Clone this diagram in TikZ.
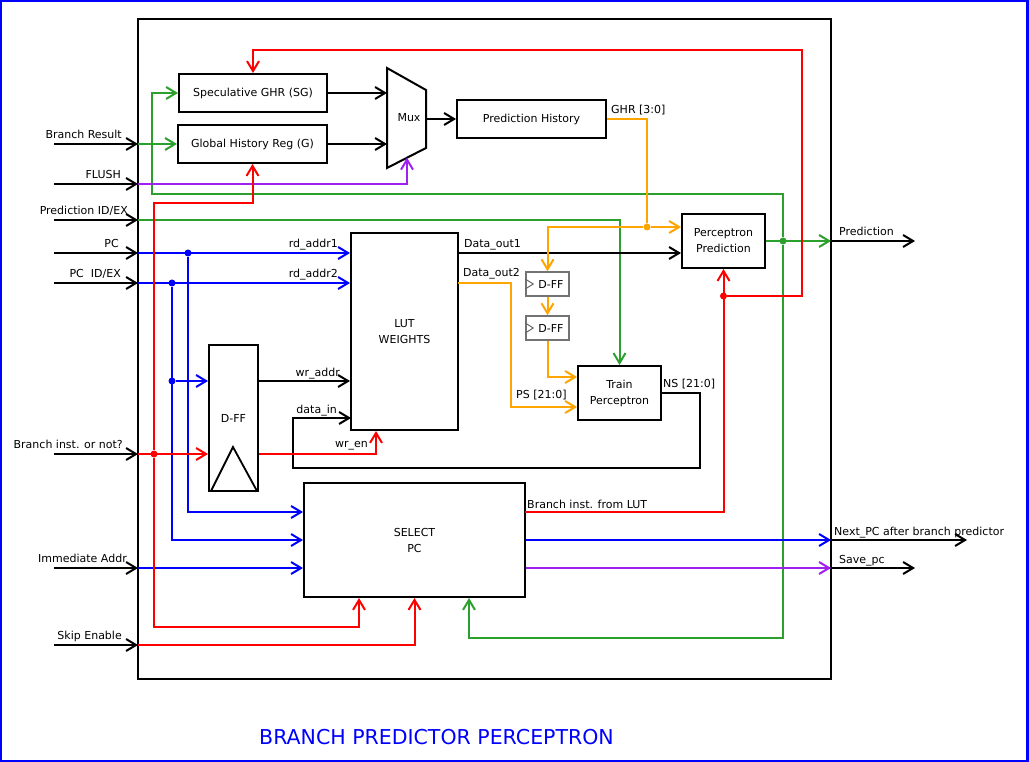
\documentclass[tikz,border=0pt]{standalone}
\usepackage{fontspec}
\setmainfont{DejaVu Sans}
\usepackage{xcolor}
\usetikzlibrary{arrows.meta}

\definecolor{wred}{RGB}{255,0,0}
\definecolor{wgreen}{RGB}{44,160,44}
\definecolor{wblue}{RGB}{0,0,255}
\definecolor{worange}{RGB}{255,165,0}
\definecolor{wpurple}{RGB}{160,32,240}

\tikzset{
  blk/.style={draw, line width=2pt, inner sep=1pt, align=center, font=\fontsize{11}{16}\selectfont},
  ffbox/.style={draw=black!55, line width=1.5pt, inner sep=0pt, minimum width=43pt, minimum height=24pt, font=\fontsize{11}{14}\selectfont},
  lbl/.style={inner sep=0pt, font=\fontsize{11}{14}\selectfont},
  wire/.style={line width=2pt, -{Straight Barb[length=10pt,width=12pt]}},
  bus/.style={line width=2pt},
  dot/.style={circle, fill, inner sep=0pt, minimum size=7pt},
}

\begin{document}
\begin{tikzpicture}[x=1pt,y=-1pt]
    \useasboundingbox (0,0) rectangle (1029,762);
    \draw[wblue, line width=2.5pt] (1.2,1.2) rectangle (1027.6,760.8);
    \node[draw, line width=2pt, minimum width=693pt, minimum height=660pt, inner sep=0pt] (core) at (484.5,349) {};

    \node[blk, minimum width=148pt, minimum height=38pt] (sg) at (253,93) {Speculative GHR (SG)};
    \node[blk, minimum width=149pt, minimum height=38pt] (ghr) at (252.5,144) {Global History Reg (G)};
    \node[blk, minimum width=149pt, minimum height=38pt] (ph) at (531.5,119) {Prediction History};
    \node[blk, minimum width=107pt, minimum height=197pt] (lut) at (404.5,331.5) {LUT\\WEIGHTS};
    \node[blk, minimum width=83pt, minimum height=54pt] (pp) at (723.5,241) {Perceptron\\Prediction};
    \node[blk, minimum width=83pt, minimum height=54pt] (tp) at (619.5,393) {Train\\Perceptron};
    \node[ffbox] (dffa) at (547.5,284) {\hspace*{7pt}D-FF};
    \node[ffbox] (dffb) at (547.5,328) {\hspace*{7pt}D-FF};
    \node[blk, minimum width=49pt, minimum height=146pt] (dff) at (233.5,418) {D-FF};
    \node[blk, minimum width=221pt, minimum height=114pt] (sel) at (414.5,540) {SELECT\\PC};

    \draw[line width=2pt] (387,68) -- (426,90) -- (426,148) -- (387,168) -- cycle;
    \node[lbl] (mux) at (409,118) {Mux};
    \coordinate (mA) at (387,93);
    \coordinate (mB) at (387,144);
    \coordinate (mO) at (426,119);
    \coordinate (mS) at (407,157.7);

    \draw[line width=1.8pt] ([xshift=-22.5pt,yshift=1pt]dff.south) -- ([xshift=-0.5pt,yshift=45pt]dff.south) -- ([xshift=23.5pt,yshift=1pt]dff.south);
    \foreach \ff in {dffa,dffb} {
        \draw[black!60, line width=1pt] ([yshift=5pt]\ff.west) -- ([xshift=8pt]\ff.west) -- ([yshift=-5pt]\ff.west);
    };

    \foreach \nm/\y/\xe/\txt in {br/144/122/Branch Result, fl/184/121/FLUSH, pid/220/128/{Prediction ID/EX}, pc/253/119/PC, pcid/283/121/{PC\ \ ID/EX}, bi/454/123/{Branch inst. or not?}, imm/568/127/Immediate Addr, skip/645/122/Skip Enable} {
        \coordinate (s-\nm) at (54,\y);
        \coordinate (in-\nm) at (138,\y);
        \draw[wire] (s-\nm) -- (in-\nm);
        \node[lbl, anchor=base east] (l-\nm) at (\xe,{\y-5.5}) {\txt};
    };

    \coordinate (o-pr) at (831,241);
    \coordinate (e-pr) at (915,241);
    \coordinate (o-np) at (831,540);
    \coordinate (e-np) at (967,540);
    \coordinate (o-sv) at (831,568);
    \coordinate (e-sv) at (915,568);
    \draw[wire] (o-pr) -- (e-pr);
    \draw[wire] (o-np) -- (e-np);
    \draw[wire] (o-sv) -- (e-sv);

    \node[dot, wgreen] (jg) at (783,241) {};
    \node[dot, worange] (jo) at (647,227) {};
    \node[dot, wblue] (jb1) at (188,253) {};
    \node[dot, wblue] (jb2) at (172,283) {};
    \node[dot, wblue] (jb3) at (172,381) {};
    \node[dot, wred] (jr) at (154,454) {};
    \node[dot, wred] (jr2) at (723.5,296) {};

    \draw[wire, wgreen] (in-br) -- (ghr.west);
    \draw[wire, wgreen] (pp.east) -- (o-pr);
    \draw[wire, wgreen] (jg) |- (152,194) |- (sg.west);
    \draw[wire, wgreen] (jg) -- (783,638) -| ([xshift=54.5pt]sel.south);
    \draw[wire, wgreen] (in-pid) -| (tp.north);

    \draw[wire, wpurple] (in-fl) -| (mS);
    \draw[wire, wpurple] ([yshift=-28pt]sel.east) -- (o-sv);

    \draw[wire] (sg.east) -- (mA);
    \draw[wire] (ghr.east) -- (mB);
    \draw[wire] (mO) -- (ph.west);
    \coordinate (do1) at (458,253);
    \draw[wire] (do1) -- (pp.west |- do1);
    \draw[wire] (dff.east |- jb3) -- (lut.west |- jb3);
    \coordinate (din) at (351,418);
    \draw[wire] (tp.east) -| (700,468) -| (293,418) -- (din);

    \draw[bus, worange] (ph.east) -| (jo);
    \draw[wire, worange] (jo) -- (pp.west |- jo);
    \draw[wire, worange] (jo) -| (dffa.north);
    \draw[wire, worange] (dffa) -- (dffb);
    \draw[wire, worange] (dffb.south) |- ([yshift=16pt]tp.west);
    \coordinate (do2) at (458,283);
    \draw[wire, worange] (do2) -- (511,283) |- ([yshift=-14pt]tp.west);

    \draw[wire, wblue] (in-pc) -- (lut.west |- in-pc);
    \draw[wire, wblue] (jb1) |- ([yshift=28pt]sel.west);
    \draw[wire, wblue] (in-pcid) -- (lut.west |- in-pcid);
    \draw[wire, wblue] (jb2) |- (sel.west);
    \draw[wire, wblue] (jb3) -- (dff.west |- jb3);
    \draw[wire, wblue] (in-imm) -- (sel.west |- in-imm);
    \draw[wire, wblue] (sel.east) -- (o-np);

    \draw[wire, wred] (in-bi) -- (dff.west |- in-bi);
    \draw[wire, wred] (jr) -- (154,203) -| (ghr.south);
    \draw[wire, wred] (jr) -- (154,627) -| ([xshift=-55.5pt]sel.south);
    \draw[wire, wred] (in-skip) -| (sel.south);
    \draw[wire, wred] (dff.east |- in-bi) -| ([xshift=-28.5pt]lut.south);
    \coordinate (bl) at (525,512);
    \draw[wire, wred] (bl) -| (pp.south);
    \draw[wire, wred] (jr2) -| (802,50) -| (sg.north);

    \node[lbl, anchor=base east] (l-rd1) at (338,248) {rd\_addr1};
    \node[lbl, anchor=base east] (l-rd2) at (338,278) {rd\_addr2};
    \node[lbl, anchor=base east] (l-wra) at (340,376) {wr\_addr};
    \node[lbl, anchor=base east] (l-din) at (337,413) {data\_in};
    \node[lbl, anchor=base east] (l-wen) at (368,447) {wr\_en};
    \node[lbl, anchor=base west] (l-do1) at (464,248) {Data\_out1};
    \node[lbl, anchor=base west] (l-do2) at (463,277) {Data\_out2};
    \node[lbl, anchor=base west] (l-ps) at (516,398) {PS [21:0]};
    \node[lbl, anchor=base west] (l-ns) at (663,388) {NS [21:0]};
    \node[lbl, anchor=base west] (l-ghr) at (611,114) {GHR [3:0]};
    \node[lbl, anchor=base west] (l-bl) at (527,508) {Branch inst. from LUT};
    \node[lbl, anchor=base west] (l-pr) at (839,236) {Prediction};
    \node[lbl, anchor=base west] (l-np) at (834,535) {Next\_PC after branch predictor};
    \node[lbl, anchor=base west] (l-sv) at (839,563) {Save\_pc};

    \node[inner sep=0pt, anchor=base, text=wblue, font=\fontsize{20.5}{24}\selectfont] (title) at (436.5,744) {BRANCH PREDICTOR PERCEPTRON};
\end{tikzpicture}
\end{document}
